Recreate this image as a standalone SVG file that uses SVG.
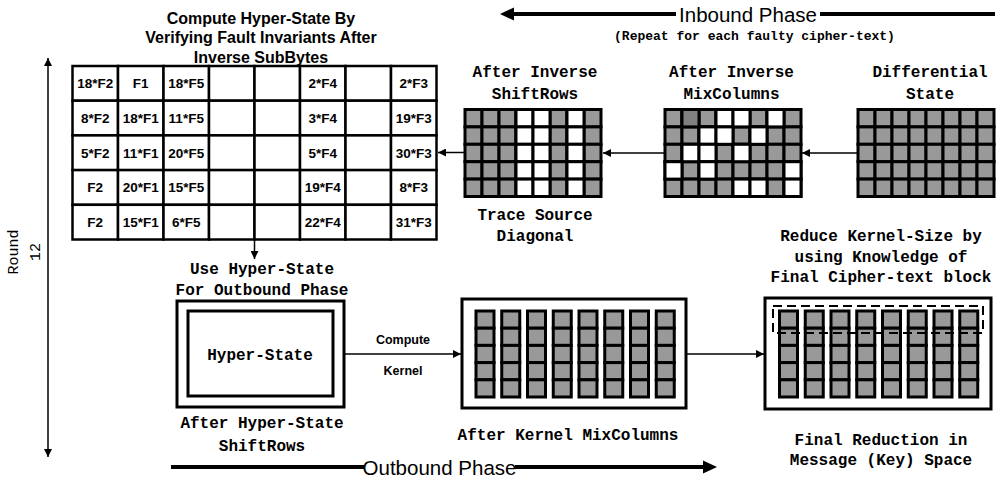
<svg xmlns="http://www.w3.org/2000/svg" xmlns:xlink="http://www.w3.org/1999/xlink" width="996" height="477" viewBox="0 0 996 477">
<style>
.sans{font-family:"Liberation Sans",Arial,sans-serif}
.b{font-weight:bold}
.mono{font-family:"Liberation Mono","Courier New",monospace;font-weight:bold;font-size:16px}
.mid{text-anchor:middle}
.cell{fill:#fff;stroke:#000;stroke-width:2.5}
.ct{font-family:"Liberation Sans",Arial,sans-serif;font-weight:bold;font-size:13.5px;text-anchor:middle}
.g{fill:#999;stroke:#000;stroke-width:3}
.w{fill:#fff;stroke:#000;stroke-width:3}
.d{fill:#808080;stroke:#000;stroke-width:3}
.box{fill:#fff;stroke:#000;stroke-width:3}
.conn{fill:none;stroke:#000;stroke-width:1.5}
.phase{fill:none;stroke:#000;stroke-width:4}
</style>
<defs>
<marker id="ah" viewBox="0 0 10 10" refX="10" refY="5" markerWidth="9" markerHeight="8" markerUnits="userSpaceOnUse" orient="auto-start-reverse"><path d="M0,0 L10,5 L0,10 z" fill="#000"/></marker>
<g id="kcol">
<rect class="g" x="0" y="0" width="18" height="17.2"/>
<rect class="g" x="0" y="17.2" width="18" height="17.2"/>
<rect class="g" x="0" y="34.4" width="18" height="17.2"/>
<rect class="g" x="0" y="51.6" width="18" height="17.2"/>
<rect class="g" x="0" y="68.8" width="18" height="17.2"/>
</g>
<g id="grow">
<rect class="g" x="0" y="0" width="17" height="17.4"/>
<rect class="g" x="17" y="0" width="17" height="17.4"/>
<rect class="g" x="34" y="0" width="17" height="17.4"/>
<rect class="g" x="51" y="0" width="17" height="17.4"/>
<rect class="g" x="68" y="0" width="17" height="17.4"/>
<rect class="g" x="85" y="0" width="17" height="17.4"/>
<rect class="g" x="102" y="0" width="17" height="17.4"/>
<rect class="g" x="119" y="0" width="17" height="17.4"/>
</g>
</defs>
<rect width="996" height="477" fill="#fff"/>

<g id="phases">
<line class="phase" x1="512" y1="14" x2="676" y2="14"/>
<line class="phase" x1="820" y1="14" x2="995" y2="14"/>
<polygon points="500,14 514,7.5 514,20.5" fill="#000"/>
<text class="sans mid" x="748" y="21.5" font-size="20.5">Inbound Phase</text>
<text class="mono mid" x="754.5" y="40" style="font-size:13px">(Repeat for each faulty cipher-text)</text>
<line class="phase" x1="171" y1="467" x2="364" y2="467"/>
<line class="phase" x1="515" y1="467" x2="705" y2="467"/>
<polygon points="717,467 703,460.5 703,473.5" fill="#000"/>
<text class="sans mid" x="439.5" y="474.5" font-size="20.5">Outbound Phase</text>
</g>

<g id="round">
<line class="conn" x1="48" y1="58" x2="48" y2="457" marker-start="url(#ah)" marker-end="url(#ah)"/>
<text font-family="Liberation Mono, Courier New, monospace" font-size="15" text-anchor="middle" transform="translate(18,252) rotate(-90)">Round</text>
<text font-family="Liberation Mono, Courier New, monospace" font-size="15" text-anchor="middle" transform="translate(40,252) rotate(-90)">12</text>
</g>

<g id="hyperstate-table">
<text class="sans b mid" x="261" y="23.5" font-size="16">Compute Hyper-State By</text>
<text class="sans b mid" x="261" y="43.3" font-size="16">Verifying Fault Invariants After</text>
<text class="sans b mid" x="261" y="62.5" font-size="16">Inverse SubBytes</text>
<g>
<rect class="cell" x="72.5" y="66" width="45.5" height="34.7"/><rect class="cell" x="118" y="66" width="45.5" height="34.7"/><rect class="cell" x="163.5" y="66" width="45.5" height="34.7"/><rect class="cell" x="209" y="66" width="45.5" height="34.7"/><rect class="cell" x="254.5" y="66" width="45.5" height="34.7"/><rect class="cell" x="300" y="66" width="45.5" height="34.7"/><rect class="cell" x="345.5" y="66" width="45.5" height="34.7"/><rect class="cell" x="391" y="66" width="45.5" height="34.7"/>
<rect class="cell" x="72.5" y="100.7" width="45.5" height="34.7"/><rect class="cell" x="118" y="100.7" width="45.5" height="34.7"/><rect class="cell" x="163.5" y="100.7" width="45.5" height="34.7"/><rect class="cell" x="209" y="100.7" width="45.5" height="34.7"/><rect class="cell" x="254.5" y="100.7" width="45.5" height="34.7"/><rect class="cell" x="300" y="100.7" width="45.5" height="34.7"/><rect class="cell" x="345.5" y="100.7" width="45.5" height="34.7"/><rect class="cell" x="391" y="100.7" width="45.5" height="34.7"/>
<rect class="cell" x="72.5" y="135.4" width="45.5" height="34.7"/><rect class="cell" x="118" y="135.4" width="45.5" height="34.7"/><rect class="cell" x="163.5" y="135.4" width="45.5" height="34.7"/><rect class="cell" x="209" y="135.4" width="45.5" height="34.7"/><rect class="cell" x="254.5" y="135.4" width="45.5" height="34.7"/><rect class="cell" x="300" y="135.4" width="45.5" height="34.7"/><rect class="cell" x="345.5" y="135.4" width="45.5" height="34.7"/><rect class="cell" x="391" y="135.4" width="45.5" height="34.7"/>
<rect class="cell" x="72.5" y="170.1" width="45.5" height="34.7"/><rect class="cell" x="118" y="170.1" width="45.5" height="34.7"/><rect class="cell" x="163.5" y="170.1" width="45.5" height="34.7"/><rect class="cell" x="209" y="170.1" width="45.5" height="34.7"/><rect class="cell" x="254.5" y="170.1" width="45.5" height="34.7"/><rect class="cell" x="300" y="170.1" width="45.5" height="34.7"/><rect class="cell" x="345.5" y="170.1" width="45.5" height="34.7"/><rect class="cell" x="391" y="170.1" width="45.5" height="34.7"/>
<rect class="cell" x="72.5" y="204.8" width="45.5" height="34.7"/><rect class="cell" x="118" y="204.8" width="45.5" height="34.7"/><rect class="cell" x="163.5" y="204.8" width="45.5" height="34.7"/><rect class="cell" x="209" y="204.8" width="45.5" height="34.7"/><rect class="cell" x="254.5" y="204.8" width="45.5" height="34.7"/><rect class="cell" x="300" y="204.8" width="45.5" height="34.7"/><rect class="cell" x="345.5" y="204.8" width="45.5" height="34.7"/><rect class="cell" x="391" y="204.8" width="45.5" height="34.7"/>
</g>
<text class="ct" x="95.25" y="88.2">18*F2</text><text class="ct" x="140.75" y="88.2">F1</text><text class="ct" x="186.25" y="88.2">18*F5</text><text class="ct" x="322.75" y="88.2">2*F4</text><text class="ct" x="413.75" y="88.2">2*F3</text>
<text class="ct" x="95.25" y="122.9">8*F2</text><text class="ct" x="140.75" y="122.9">18*F1</text><text class="ct" x="186.25" y="122.9">11*F5</text><text class="ct" x="322.75" y="122.9">3*F4</text><text class="ct" x="413.75" y="122.9">19*F3</text>
<text class="ct" x="95.25" y="157.6">5*F2</text><text class="ct" x="140.75" y="157.6">11*F1</text><text class="ct" x="186.25" y="157.6">20*F5</text><text class="ct" x="322.75" y="157.6">5*F4</text><text class="ct" x="413.75" y="157.6">30*F3</text>
<text class="ct" x="95.25" y="192.3">F2</text><text class="ct" x="140.75" y="192.3">20*F1</text><text class="ct" x="186.25" y="192.3">15*F5</text><text class="ct" x="322.75" y="192.3">19*F4</text><text class="ct" x="413.75" y="192.3">8*F3</text>
<text class="ct" x="95.25" y="227">F2</text><text class="ct" x="140.75" y="227">15*F1</text><text class="ct" x="186.25" y="227">6*F5</text><text class="ct" x="322.75" y="227">22*F4</text><text class="ct" x="413.75" y="227">31*F3</text>
</g>

<g id="inv-shiftrows">
<text class="mono mid" x="535" y="77">After Inverse</text>
<text class="mono mid" x="535" y="99">ShiftRows</text>
<g transform="translate(465,109.5)">
<use xlink:href="#grow" y="0"/><use xlink:href="#grow" y="17.4"/><use xlink:href="#grow" y="34.8"/><use xlink:href="#grow" y="52.2"/><use xlink:href="#grow" y="69.6"/>
<rect class="w" x="51" y="0" width="17" height="17.4"/><rect class="w" x="68" y="0" width="17" height="17.4"/><rect class="w" x="102" y="0" width="17" height="17.4"/>
<rect class="w" x="51" y="17.4" width="17" height="17.4"/><rect class="w" x="68" y="17.4" width="17" height="17.4"/><rect class="w" x="102" y="17.4" width="17" height="17.4"/>
<rect class="w" x="51" y="34.8" width="17" height="17.4"/><rect class="w" x="68" y="34.8" width="17" height="17.4"/><rect class="w" x="102" y="34.8" width="17" height="17.4"/>
<rect class="w" x="51" y="52.2" width="17" height="17.4"/><rect class="w" x="68" y="52.2" width="17" height="17.4"/><rect class="w" x="102" y="52.2" width="17" height="17.4"/>
<rect class="w" x="51" y="69.6" width="17" height="17.4"/><rect class="w" x="68" y="69.6" width="17" height="17.4"/><rect class="w" x="102" y="69.6" width="17" height="17.4"/>
</g>
<text class="mono mid" x="535" y="219.5">Trace Source</text>
<text class="mono mid" x="535" y="240.5">Diagonal</text>
</g>

<g id="inv-mixcolumns">
<text class="mono mid" x="731.5" y="77">After Inverse</text>
<text class="mono mid" x="731.5" y="99">MixColumns</text>
<g transform="translate(665,109.5)">
<use xlink:href="#grow" y="0"/><use xlink:href="#grow" y="17.4"/><use xlink:href="#grow" y="34.8"/><use xlink:href="#grow" y="52.2"/><use xlink:href="#grow" y="69.6"/>
<rect class="d" x="17" y="0" width="17" height="17.4"/><rect class="w" x="51" y="0" width="17" height="17.4"/><rect class="w" x="68" y="0" width="17" height="17.4"/><rect class="w" x="102" y="0" width="17" height="17.4"/>
<rect class="w" x="34" y="17.4" width="17" height="17.4"/><rect class="w" x="51" y="17.4" width="17" height="17.4"/><rect class="w" x="85" y="17.4" width="17" height="17.4"/>
<rect class="w" x="17" y="34.8" width="17" height="17.4"/><rect class="w" x="34" y="34.8" width="17" height="17.4"/><rect class="w" x="68" y="34.8" width="17" height="17.4"/>
<rect class="w" x="0" y="52.2" width="17" height="17.4"/><rect class="w" x="34" y="52.2" width="17" height="17.4"/><rect class="w" x="119" y="52.2" width="17" height="17.4"/>
<rect class="w" x="68" y="69.6" width="17" height="17.4"/><rect class="w" x="85" y="69.6" width="17" height="17.4"/><rect class="w" x="119" y="69.6" width="17" height="17.4"/>
</g>
</g>

<g id="differential-state">
<text class="mono mid" x="930" y="77">Differential</text>
<text class="mono mid" x="930" y="99">State</text>
<g transform="translate(858,109.5)">
<use xlink:href="#grow" y="0"/><use xlink:href="#grow" y="17.4"/><use xlink:href="#grow" y="34.8"/><use xlink:href="#grow" y="52.2"/><use xlink:href="#grow" y="69.6"/>
</g>
</g>

<g id="hyper-state">
<text class="mono mid" x="262" y="273.5">Use Hyper-State</text>
<text class="mono mid" x="262" y="294.5">For Outbound Phase</text>
<rect class="box" x="177" y="301" width="167" height="106"/>
<rect class="box" x="188" y="311" width="145" height="85"/>
<text class="mono mid" x="260" y="359.5">Hyper-State</text>
<text class="mono mid" x="262" y="427.5">After Hyper-State</text>
<text class="mono mid" x="262" y="450.5">ShiftRows</text>
</g>

<g id="kernel">
<rect class="box" x="462" y="299" width="224" height="109"/>
<use xlink:href="#kcol" x="476" y="311"/><use xlink:href="#kcol" x="501.75" y="311"/><use xlink:href="#kcol" x="527.5" y="311"/><use xlink:href="#kcol" x="553.25" y="311"/><use xlink:href="#kcol" x="579" y="311"/><use xlink:href="#kcol" x="604.75" y="311"/><use xlink:href="#kcol" x="630.5" y="311"/><use xlink:href="#kcol" x="656.25" y="311"/>
<text class="mono mid" x="568" y="439.5">After Kernel MixColumns</text>
</g>

<g id="final-reduction">
<text class="mono mid" x="881" y="240.5">Reduce Kernel-Size by</text>
<text class="mono mid" x="881" y="261.5">using Knowledge of</text>
<text class="mono mid" x="881" y="281.5">Final Cipher-text block</text>
<rect class="box" x="765" y="298" width="226" height="111"/>
<use xlink:href="#kcol" x="779.5" y="311"/><use xlink:href="#kcol" x="805.25" y="311"/><use xlink:href="#kcol" x="831" y="311"/><use xlink:href="#kcol" x="856.75" y="311"/><use xlink:href="#kcol" x="882.5" y="311"/><use xlink:href="#kcol" x="908.25" y="311"/><use xlink:href="#kcol" x="934" y="311"/><use xlink:href="#kcol" x="959.75" y="311"/>
<rect x="773" y="306" width="210" height="27" fill="none" stroke="#000" stroke-width="2" stroke-dasharray="9,5"/>
<text class="mono mid" x="881" y="444.5">Final Reduction in</text>
<text class="mono mid" x="881" y="464.5">Message (Key) Space</text>
</g>

<g id="connectors">
<line class="conn" x1="858" y1="153" x2="802" y2="153" marker-end="url(#ah)"/>
<line class="conn" x1="665" y1="153" x2="603" y2="153" marker-end="url(#ah)"/>
<line class="conn" x1="465" y1="152.5" x2="438" y2="152.5" marker-end="url(#ah)"/>
<line class="conn" x1="254.5" y1="240" x2="254.5" y2="259" marker-end="url(#ah)"/>
<line class="conn" x1="344" y1="354" x2="461" y2="354" marker-end="url(#ah)"/>
<text class="sans b mid" x="403" y="343.5" font-size="12.5">Compute</text>
<text class="sans b mid" x="403" y="374.5" font-size="12.5">Kernel</text>
<line class="conn" x1="686" y1="354" x2="764" y2="354" marker-end="url(#ah)"/>
</g>
</svg>
